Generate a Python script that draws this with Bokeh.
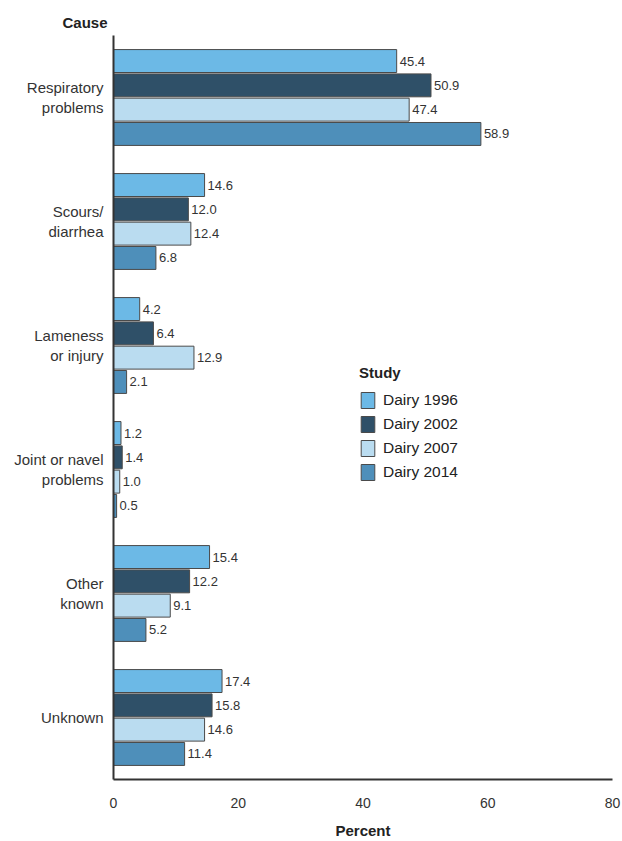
from bokeh.plotting import figure
from bokeh.models import (Range1d, FixedTicker, Legend, LegendItem, Title, ColumnDataSource)
from bokeh.core.properties import value
from bokeh.embed import file_html
from bokeh.resources import INLINE

causes = ["Respiratory\nproblems", "Scours/\ndiarrhea", "Lameness\nor injury",
          "Joint or navel\nproblems", "Other\nknown", "Unknown"]
studies = ["Dairy 1996", "Dairy 2002", "Dairy 2007", "Dairy 2014"]
d1996 = [45.4, 14.6, 4.2, 1.2, 15.4, 17.4]
d2002 = [50.9, 12.0, 6.4, 1.4, 12.2, 15.8]
d2007 = [47.4, 12.4, 12.9, 1.0, 9.1, 14.6]
d2014 = [58.9, 6.8, 2.1, 0.5, 5.2, 11.4]
x_ticks = [0, 20, 40, 60, 80]

series = [d1996, d2002, d2007, d2014]
colors = ["#6cb9e6", "#2f5068", "#badcf0", "#4e8fba"]
FONT = "Liberation Sans"

p = figure(width=622, height=841, output_backend="svg", toolbar_location=None,
           x_range=Range1d(0, 80), y_range=Range1d(6, 0),
           min_border_left=113, min_border_right=10, min_border_top=35, min_border_bottom=58)
p.outline_line_color = None
p.xgrid.grid_line_color = None
p.ygrid.grid_line_color = None

step = 0.196
offsets = [-1.5 * step, -0.5 * step, 0.5 * step, 1.5 * step]
centers = [i + 0.5 for i in range(len(causes))]

items = []
for s, (vals, col, off) in enumerate(zip(series, colors, offsets)):
    ys = [c + off for c in centers]
    src = ColumnDataSource(dict(y=ys, right=vals, lab=["%.1f" % v for v in vals]))
    r = p.hbar(y="y", left=0, right="right", height=0.185, source=src,
               fill_color=col, line_color="#4a4a4a", line_width=1)
    p.text(x="right", y="y", text="lab", source=src, x_offset=3,
           text_baseline="middle", text_align="left", text_font_size="13px",
           text_color="#333333", text_font=value(FONT))
    items.append(LegendItem(label=studies[s], renderers=[r]))

legend = Legend(items=items, location=(246, 297), title="Study",
                title_text_font_style="bold", title_text_font_size="15px",
                title_text_font=FONT, title_text_color="#222222",
                label_text_font=FONT, label_text_font_size="15.5px", label_text_color="#222222",
                border_line_color=None, background_fill_alpha=0,
                glyph_width=17, glyph_height=20, spacing=4, label_standoff=7,
                padding=4, title_standoff=9)
p.add_layout(legend)

p.xaxis.ticker = FixedTicker(ticks=x_ticks)
p.xaxis.major_tick_line_color = None
p.xaxis.minor_tick_line_color = None
p.xaxis.axis_line_color = "#333333"
p.xaxis.axis_line_width = 2
p.xaxis.major_label_text_font = FONT
p.xaxis.major_label_text_font_size = "14px"
p.xaxis.major_label_text_color = "#333333"
p.xaxis.major_label_standoff = 12
p.xaxis.axis_label = "Percent"
p.xaxis.axis_label_text_font = FONT
p.xaxis.axis_label_text_font_style = "bold"
p.xaxis.axis_label_text_font_size = "15px"
p.xaxis.axis_label_text_color = "#222222"
p.xaxis.axis_label_standoff = 11

p.yaxis.ticker = FixedTicker(ticks=centers)
p.yaxis.major_label_overrides = {c: lab for c, lab in zip(centers, causes)}
p.yaxis.major_tick_line_color = None
p.yaxis.minor_tick_line_color = None
p.yaxis.axis_line_color = "#333333"
p.yaxis.axis_line_width = 2
p.yaxis.major_label_text_font = FONT
p.yaxis.major_label_text_font_size = "15px"
p.yaxis.major_label_text_color = "#333333"
p.yaxis.major_label_standoff = 4
p.yaxis.major_label_text_align = "right"

p.add_layout(Title(text="Cause", align="left", offset=-51, standoff=10,
                   text_font=FONT, text_font_style="bold", text_font_size="15px",
                   text_color="#222222"), "above")

open("out.html", "w").write(file_html(p, INLINE))
